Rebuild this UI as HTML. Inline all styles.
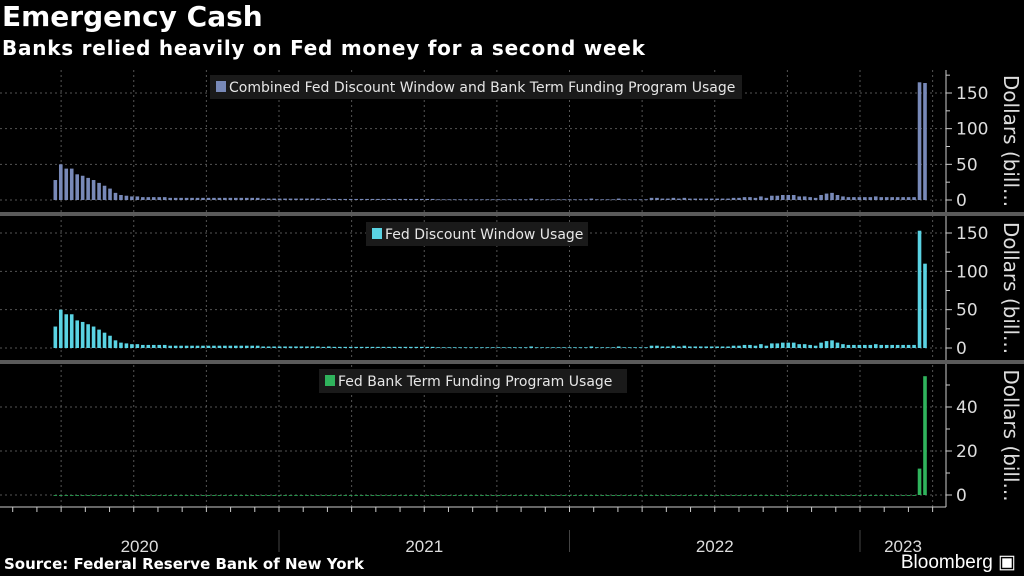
<!DOCTYPE html>
<html><head><meta charset="utf-8">
<style>
html,body{margin:0;padding:0;background:#000;}
body{width:1024px;height:576px;overflow:hidden;position:relative;font-family:"Liberation Sans",sans-serif;}
#title{position:absolute;left:2px;top:0px;color:#fff;font-size:28px;font-weight:bold;font-family:"DejaVu Sans",sans-serif;}
#subtitle{position:absolute;left:2px;top:36px;color:#fff;font-size:20px;font-weight:bold;letter-spacing:0.75px;font-family:"DejaVu Sans",sans-serif;}
#source{position:absolute;left:4px;top:555px;color:#fff;font-size:15px;font-weight:bold;font-family:"DejaVu Sans",sans-serif;}
#brand{position:absolute;right:8px;top:551px;color:#fff;font-size:19px;}
svg{position:absolute;left:0;top:0;}
</style></head>
<body>
<div id="title">Emergency Cash</div>
<div id="subtitle">Banks relied heavily on Fed money for a second week</div>
<svg id="chart" width="1024" height="576"></svg>
<div id="source">Source: Federal Reserve Bank of New York</div>
<div id="brand">Bloomberg ▣</div>
<script>
// weekly data starting ~Mar 18 2020
const startYear = 2020.23;
const discountValues = [28,50,44,44,36,34,31,28,24,20,16,10,7,6,5,5,4,4,4,4,
4,3,3,3,3,3,3,3,3,3,3,3,3,3,3,3,3,3,2,2,
2,2,2,2,2,2,2,2,2,1.5,2,1.5,1.5,1.5,1.5,1.5,1.5,1.5,1.5,1.5,
1.5,1.5,1.5,1.5,1.5,1.5,1.5,1.5,1.5,1.5,1,1,1,1,1,1,1,1,1,1,
1,1,1,1,1,1,1,2,1,1,1,1,1,1,1,1,1,1,2,1,
1,1,1,2,1,1,1,1,1,3,3,2,2,3,2,3,2,2,2,2,
2,2,2,2,3,3,4,4,3,5,3,6,6,7,7,7,5,5,4,3,
7,9,10,7,5,4,4,4,4,4,5,4,4,4,4,4,4,4,153,110];
const combinedValues = [28,50,44,44,36,34,31,28,24,20,16,10,7,6,5,5,4,4,4,4,
4,3,3,3,3,3,3,3,3,3,3,3,3,3,3,3,3,3,2,2,
2,2,2,2,2,2,2,2,2,1.5,2,1.5,1.5,1.5,1.5,1.5,1.5,1.5,1.5,1.5,
1.5,1.5,1.5,1.5,1.5,1.5,1.5,1.5,1.5,1.5,1,1,1,1,1,1,1,1,1,1,
1,1,1,1,1,1,1,2,1,1,1,1,1,1,1,1,1,1,2,1,
1,1,1,2,1,1,1,1,1,3,3,2,2,3,2,3,2,2,2,2,
2,2,2,2,3,3,4,4,3,5,3,6,6,7,7,7,5,5,4,3,
7,9,10,7,5,4,4,4,4,4,5,4,4,4,4,4,4,4,165,164];
const btfpValues = new Array(discountValues.length - 2).fill(0).concat([12,54]);
const years = ["2020","2021","2022","2023"];
const yTicks1 = [0,50,100,150];
const yTicks2 = [0,50,100,150];
const yTicks3 = [0,20,40];

const svg = document.getElementById('chart');
const NS = 'http://www.w3.org/2000/svg';
function mk(tag, attrs){const e=document.createElementNS(NS,tag);for(const k in attrs)e.setAttribute(k,attrs[k]);svg.appendChild(e);return e;}
const pxPerYear = 290.5, x2020 = -11.5;
const xYear = y => x2020 + (y-2020)*pxPerYear;
const lastBarX = 925;
const xWeek = i => xYear(startYear) + i*(lastBarX - xYear(startYear))/(discountValues.length-1);
const axisX = 946;

const panels = [
 {top:70,bottom:212,zero:200,max:150,maxY:93,ticks:yTicks1,vals:combinedValues,color:'#7889b8',legend:'Combined Fed Discount Window and Bank Term Funding Program Usage',lx:210,ly:75,lw:532,name:'combined'},
 {top:216,bottom:360,zero:348,max:150,maxY:233,ticks:yTicks2,vals:discountValues,color:'#5ad3e3',legend:'Fed Discount Window Usage',lx:366,ly:222,lw:222,name:'discount'},
 {top:364,bottom:507,zero:495,max:40,maxY:407,ticks:yTicks3,vals:btfpValues,color:'#2fb35c',legend:'Fed Bank Term Funding Program Usage',lx:319,ly:369,lw:308,name:'btfp'}
];

for(let y=2020;y<2023.5;y+=0.25){
  const x=xYear(y);
  if(x<0||x>axisX) continue;
  const g=mk('line',{x1:x,x2:x,y1:70,y2:507,stroke:'#555','stroke-dasharray':'2,3','stroke-width':1});
  
  
}

panels.forEach((p,pi)=>{
  const yScale = v => p.zero - v*(p.zero-p.maxY)/p.max;
  p.ticks.forEach(t=>{
    const y=yScale(t);
    const gl=mk('line',{x1:0,x2:axisX,y1:y,y2:y,stroke:'#555','stroke-dasharray':'2,3'});
    
    
    mk('line',{x1:axisX,x2:axisX+6,y1:y,y2:y,stroke:'#ccc'});
    const tl=mk('text',{x:axisX+10,y:y+6,fill:'#ddd','font-size':17,'font-family':'DejaVu Sans, sans-serif'});
    tl.textContent=t;
    
    
  });
  const step=p.ticks[1]/2;
  for(let v=step;v<=p.max+step;v+=p.ticks[1]){const y=yScale(v);if(y>p.top) mk('line',{x1:axisX,x2:axisX+4,y1:y,y2:y,stroke:'#ccc'});}
  mk('line',{x1:axisX,x2:axisX,y1:p.top,y2:p.bottom,stroke:'#ccc'});
  p.vals.forEach((v,i)=>{
    const x=xWeek(i), y=yScale(v);
    const r=mk('rect',{x:x-1.8,y:y,width:3.6,height:Math.max(p.zero-y,0.8),fill:p.color});
    
    
  });
  const lb=mk('rect',{x:p.lx,y:p.ly,width:p.lw,height:24,fill:'#1a1a1a'});
  
  
  mk('rect',{x:p.lx+6,y:p.ly+6,width:10,height:11,fill:p.color});
  const lt=mk('text',{x:p.lx+19,y:p.ly+17,fill:'#e6e6e6','font-size':14,'font-family':'DejaVu Sans, sans-serif'});
  lt.textContent=p.legend;
  
  
  const cy=(p.top+p.bottom)/2;
  const at=mk('text',{x:0,y:0,fill:'#ddd','font-size':20,'text-anchor':'middle','font-family':'DejaVu Sans, sans-serif',transform:`translate(1004,${cy}) rotate(90)`});
  at.textContent='Dollars (bill...';
  
  
  if(pi<2){const s=mk('rect',{x:0,y:p.bottom,width:1024,height:4,fill:'#5a5a5a'});
    }
});

mk('line',{x1:0,x2:axisX,y1:507,y2:507,stroke:'#ccc'});
for(let m=0;m<12*4;m++){const x=xYear(2020+m/12);if(x>0&&x<axisX) mk('line',{x1:x,x2:x,y1:507,y2:512,stroke:'#ccc'});}
years.forEach((yr,i)=>{
  const y0=2020+i;
  const xs=Math.max(xYear(y0),0), xe=Math.min(xYear(y0+1),axisX);
  const t=mk('text',{x:(xs+xe)/2,y:552,fill:'#ddd','font-size':17,'text-anchor':'middle','font-family':'Liberation Sans, sans-serif'});
  t.textContent=yr;
  
  
  if(i>0) mk('line',{x1:xYear(y0),x2:xYear(y0),y1:530,y2:552,stroke:'#444'});
});
</script>
</body></html>
